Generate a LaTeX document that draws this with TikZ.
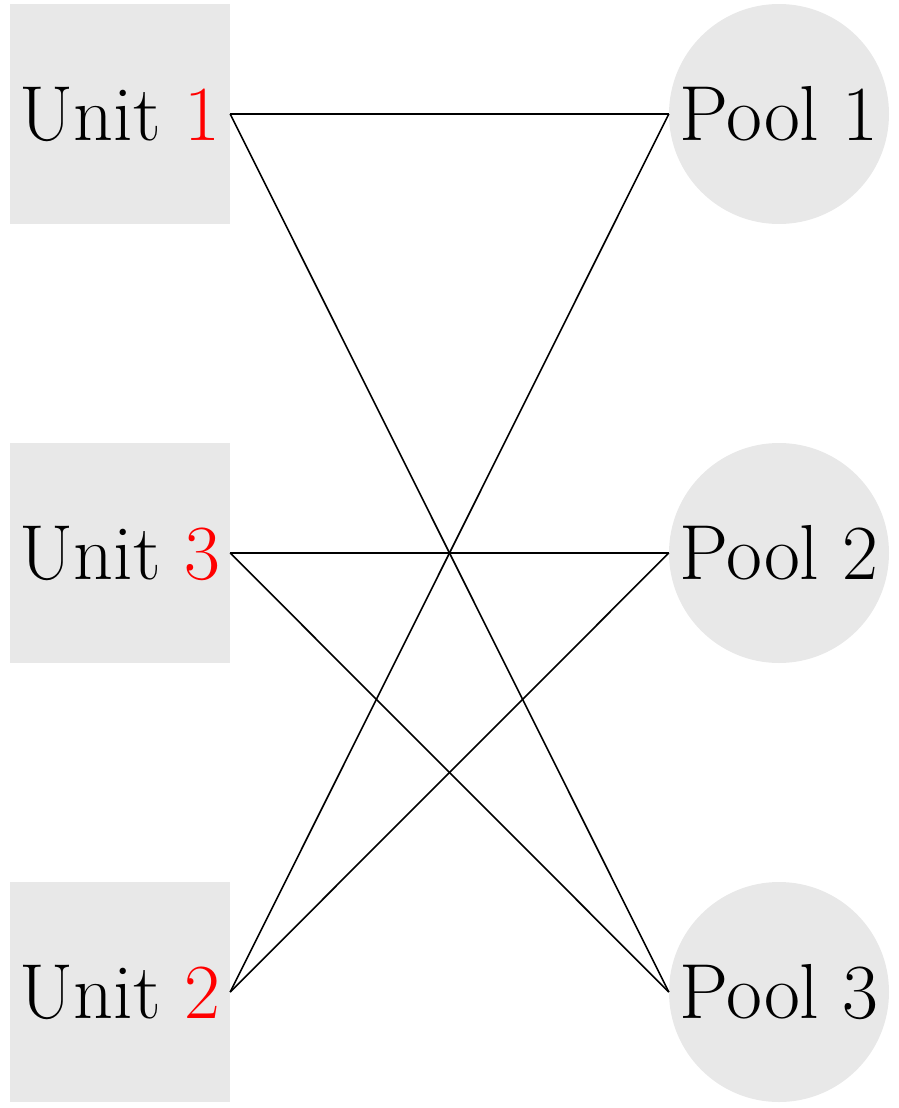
\documentclass[tikz,border=0pt]{standalone}
\usetikzlibrary{shapes,arrows}
\begin{document}
\begin{tikzpicture}[x=1pt, y=1pt, node distance = 439pt]
  \tikzstyle{unit} = [rectangle, fill=gray!18, minimum size=220pt, inner sep=0pt,
    font=\fontsize{78}{78}\selectfont]
  \tikzstyle{pool} = [circle, fill=gray!18, minimum size=220pt, inner sep=0pt,
    font=\fontsize{78}{78}\selectfont]
  \tikzstyle{line} = [draw, line width=1.6pt]

  \useasboundingbox (0,0) rectangle (898,-1108);

  % Place nodes
  \node [unit] at (120,-114) (u1) {Unit \textcolor{red}{1}};
  \node [unit, below of=u1] (u3) {Unit \textcolor{red}{3}};
  \node [unit, below of=u3] (u2) {Unit \textcolor{red}{2}};

  \node [pool] at (779,-114) (p1) {Pool 1};
  \node [pool, below of=p1] (p2) {Pool 2};
  \node [pool, below of=p2] (p3) {Pool 3};

  % Draw edges
  \path [line] (u1.east) -- (p1.west);
  \path [line] (u1.east) -- (p3.west);
  \path [line] (u3.east) -- (p2.west);
  \path [line] (u3.east) -- (p3.west);
  \path [line] (u2.east) -- (p1.west);
  \path [line] (u2.east) -- (p2.west);
\end{tikzpicture}
\end{document}
